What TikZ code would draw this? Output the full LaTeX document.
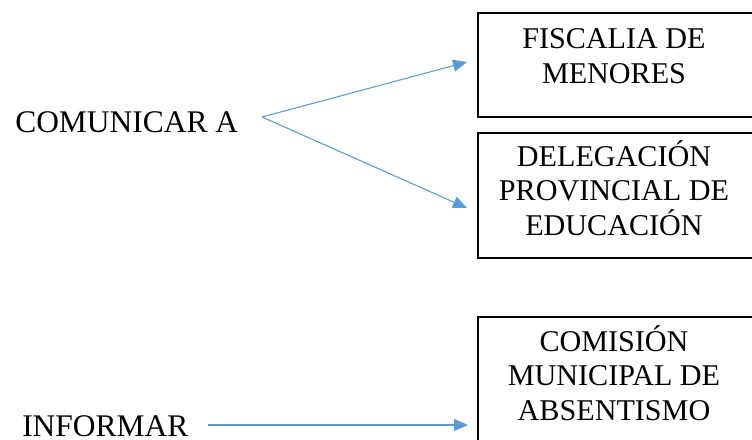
\documentclass[tikz,border=0pt]{standalone}
\usepackage{fontspec}
\setmainfont{Liberation Serif}
\usetikzlibrary{arrows.meta}
\definecolor{arrowblue}{HTML}{5B9BD5}
\begin{document}
\begin{tikzpicture}[x=0.75pt,y=-0.75pt,
  label/.style={inner sep=0pt,font=\fontsize{23.6}{26}\selectfont},
  boxtext/.style={inner sep=0pt,align=center,font=\fontsize{22.6}{25.8}\selectfont},
  frame/.style={draw,line width=1.4pt,inner sep=0pt},
  link/.style={draw=arrowblue,line width=0.8pt,-{Triangle[length=10.5pt,width=9pt]}}]
\useasboundingbox (0,0) rectangle (752,439);
\begin{scope}
\clip (0,0) rectangle (752,439);
% boxes on the right
\node[frame,minimum width=277*0.75pt,minimum height=104*0.75pt,anchor=north west] (fiscalia) at (477,12) {};
\node[frame,minimum width=277*0.75pt,minimum height=125*0.75pt,anchor=north west] (delegacion) at (477,132) {};
\node[frame,minimum width=277*0.75pt,minimum height=140*0.75pt,anchor=north west] (comision) at (477,316) {};
\end{scope}
% box captions (base anchor sits on the last line)
\node[boxtext,anchor=base] (tfisc) at (614,83) {FISCALIA DE\\MENORES};
\node[boxtext,anchor=base] (tdeleg) at (614,235) {DELEGACIÓN\\PROVINCIAL DE\\EDUCACIÓN};
\node[boxtext,anchor=base] (tcomis) at (614,420) {COMISIÓN\\MUNICIPAL DE\\ABSENTISMO};
% left labels
\node[label,anchor=base west] (comunicar) at (15,132) {COMUNICAR A};
\node[label,anchor=base west] (informar) at (22,436) {INFORMAR};
% arrow end points
\coordinate (split) at (262,117);
\coordinate (tipA) at (467,62);
\coordinate (tipB) at (467,208);
\coordinate (startC) at (208,425);
\coordinate (tipC) at (468,425);
\draw[link] (split) -- (tipA);
\draw[link] (split) -- (tipB);
\draw[link] (startC) -- (tipC);
\end{tikzpicture}
\end{document}
